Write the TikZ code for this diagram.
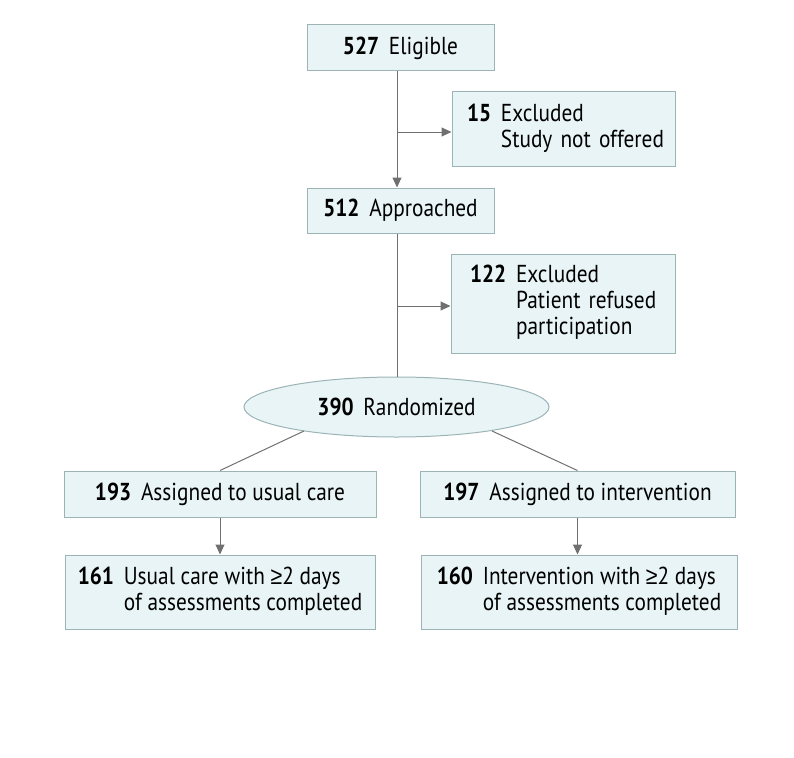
\documentclass[tikz,border=0pt]{standalone}
\usepackage{fontspec}
\setmainfont{PT Sans}[FakeStretch=0.87]
\newfontfamily\symfont{Liberation Sans}[FakeStretch=0.87]
\usetikzlibrary{shapes.geometric,arrows.meta,calc}
\definecolor{boxfill}{HTML}{E8F4F5}
\definecolor{boxline}{HTML}{9CB4B6}
\definecolor{arrowgray}{HTML}{707070}
\newcommand{\mygeq}{{\symfont ≥}}
\begin{document}
\begin{tikzpicture}[x=1pt,y=-1pt,
  box/.style={draw=boxline,fill=boxfill,line width=1pt,inner sep=0pt,font=\fontsize{24.5}{26}\selectfont},
  conn/.style={draw=arrowgray,line width=1pt},
  arr/.style={conn,-{Triangle[length=10pt,width=9pt]}}]
\useasboundingbox (0,0) rectangle (794,757);
\node[box,minimum width=187pt,minimum height=46pt] (elig) at (400.5,48) {\textbf{527}\hspace{0.4em}Eligible};
\node[box,minimum width=223pt,minimum height=74pt,text width=193pt,align=left] (ex1) at (563.5,129)
  {\begin{tabular}{@{}l@{\hspace{0.4em}}l@{}}\textbf{15}&Excluded\\&Study not offered\end{tabular}};
\node[box,minimum width=187pt,minimum height=45pt] (appr) at (400.5,210.5) {\textbf{512}\hspace{0.4em}Approached};
\node[box,minimum width=224pt,minimum height=99pt,text width=186pt,align=left] (ex2) at (563,303.5)
  {\begin{tabular}{@{}l@{\hspace{0.4em}}l@{}}\textbf{122}&Excluded\\&Patient refused\\&participation\end{tabular}};
\node[box,ellipse,minimum width=305pt,minimum height=60pt] (rand) at (396.5,407) {\textbf{390}\hspace{0.4em}Randomized};
\node[box,minimum width=312pt,minimum height=46pt] (usual) at (220,494) {\textbf{193}\hspace{0.4em}Assigned to usual care};
\node[box,minimum width=315pt,minimum height=46pt] (int) at (577.5,494) {\textbf{197}\hspace{0.4em}Assigned to intervention};
\node[box,minimum width=310pt,minimum height=74pt] (uc2) at (220,592)
  {\begin{tabular}{@{}l@{\hspace{0.4em}}l@{}}\textbf{161}&Usual care with \mygeq2 days\\&of assessments completed\end{tabular}};
\node[box,minimum width=316pt,minimum height=74pt] (int2) at (579,592)
  {\begin{tabular}{@{}l@{\hspace{0.4em}}l@{}}\textbf{160}&Intervention with \mygeq2 days\\&of assessments completed\end{tabular}};
% connectors
\coordinate (b1) at (397,132);
\coordinate (b2) at (397,306);
\coordinate (rl) at ($(rand.center)+(-92.5,24)$);
\coordinate (rr) at ($(rand.center)+(95.5,24)$);
\draw[arr] (elig.south -| b1) -- (appr.north -| b1);
\draw[arr] (b1) -- (b1 -| ex1.west);
\draw[conn] (appr.south -| b2) -- (rand.north -| b2);
\draw[arr] (b2) -- (b2 -| ex2.west);
\draw[conn] (rl) -- (usual.north);
\draw[conn] (rr) -- (int.north);
\draw[arr] (usual.south) -- (uc2.north -| usual.south);
\draw[arr] (int.south) -- (int2.north -| int.south);
\end{tikzpicture}
\end{document}
